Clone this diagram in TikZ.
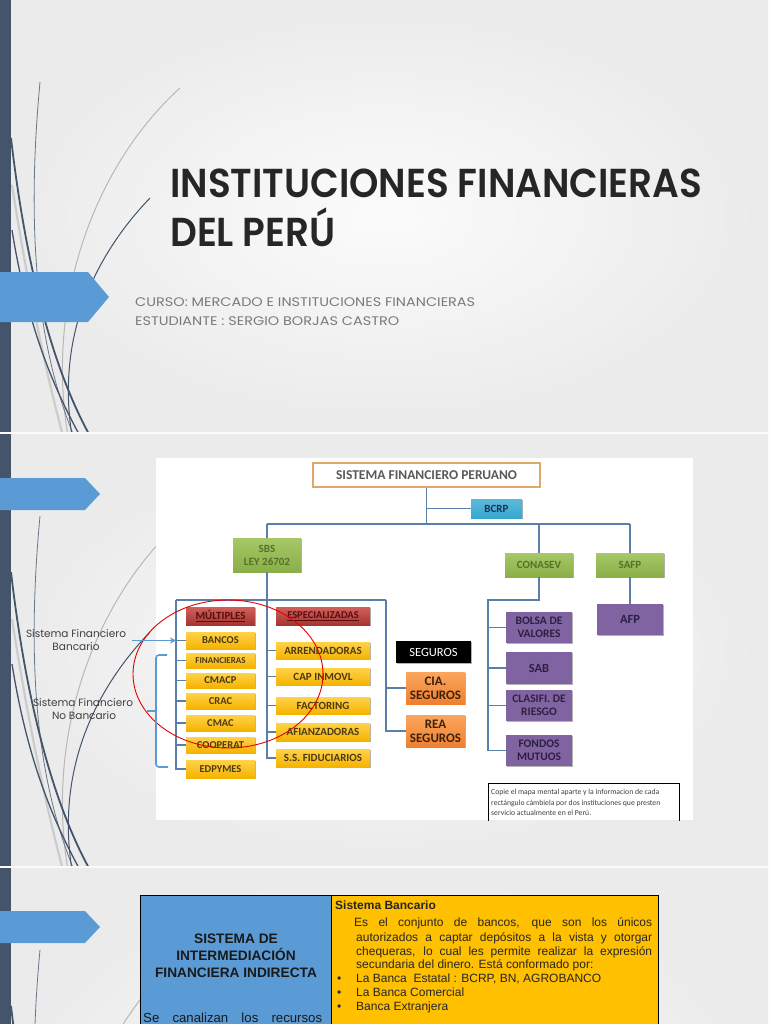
\documentclass[tikz,border=0pt]{standalone}
\usepackage{fontspec}
\usepackage{graphicx}
\usetikzlibrary{shadows,arrows.meta}
\setmainfont{Liberation Sans}
\newfontfamily\gothic{Poppins}
\newfontfamily\gothictitle{Poppins SemiBold}
\newfontfamily\calib{Carlito}
\newfontfamily\arialf{Liberation Sans}
\definecolor{strip}{HTML}{44546A}
\definecolor{accblue}{HTML}{5B9BD5}
\definecolor{connc}{HTML}{5A80AA}
\definecolor{yel1}{HTML}{FFD24A}
\definecolor{yel2}{HTML}{F5B300}
\definecolor{ytext}{HTML}{4A3A16}
\definecolor{gr1}{HTML}{A6C867}
\definecolor{gr2}{HTML}{8AAE48}
\definecolor{gtext}{HTML}{56702A}
\definecolor{pbox}{HTML}{8064A2}
\definecolor{ptext}{HTML}{2E1F42}
\definecolor{or1}{HTML}{FBA55E}
\definecolor{or2}{HTML}{EE8030}
\definecolor{otext}{HTML}{3D2208}
\definecolor{red1}{HTML}{D0605C}
\definecolor{red2}{HTML}{A63532}
\definecolor{rtext}{HTML}{5A0E0E}
\definecolor{bcrpc}{HTML}{35A8D0}
\definecolor{bcrptext}{HTML}{1E2F4F}
\definecolor{ttlborder}{HTML}{E0A868}
\definecolor{ttltext}{HTML}{595959}
\definecolor{titlec}{HTML}{262626}
\definecolor{subc}{HTML}{7A7A7A}
\definecolor{ybig}{HTML}{FFC000}
\newsavebox\mybox
\AtBeginDocument{%
  \sbox\mybox{\gothictitle\fontsize{40}{40}\selectfont INSTITUCIONES FINANCIERAS}%
  \pgfmathsetmacro\tsx{532/\the\wd\mybox}%
  \pgfmathsetmacro\tsy{28.6/\the\ht\mybox}%
  \sbox\mybox{\gothic\fontsize{12}{12}\selectfont CURSO: MERCADO E INSTITUCIONES FINANCIERAS}%
  \pgfmathsetmacro\ssx{340/\the\wd\mybox}%
  \pgfmathsetmacro\ssy{8.8/\the\ht\mybox}%
  \sbox\mybox{\gothic\fontsize{10}{10}\selectfont Sistema Financiero}%
  \pgfmathsetmacro\lfs{10*100/\the\wd\mybox}%
}
\newcommand\mywisps{%
  \draw[line width=2.2pt, black!20] (12,185) .. controls (30,300) and (48,380) .. (63,436);
  \draw[line width=1.0pt, black!28] (180,88) .. controls (95,165) and (45,300) .. (68,436);
  \draw[line width=0.8pt, strip!80] (40,82) .. controls (29,200) and (30,330) .. (74,436);
  \draw[line width=1.8pt, strip] (11,138) .. controls (24,250) and (48,360) .. (90,436);
  \draw[line width=1.3pt, strip] (12,230) .. controls (28,330) and (55,390) .. (80,436);
  \draw[line width=1.0pt, strip] (150,198) .. controls (100,250) and (55,330) .. (72,436);
}
\begin{document}
\begin{tikzpicture}[x=1pt,y=-1pt,
  cbox/.style={inner sep=0pt, outer sep=0pt, align=center,
     drop shadow={shadow xshift=0.8pt, shadow yshift=-0.8pt, opacity=0.3, fill=black}},
  ybx/.style={cbox, top color=yel1, bottom color=yel2, text=ytext,
     font=\calib\bfseries\fontsize{10.5}{11}\selectfont, minimum height=17pt},
  multbx/.style={ybx, minimum width=69pt},
  espbx/.style={ybx, minimum width=94pt, font=\calib\bfseries\fontsize{11}{12}\selectfont},
  redbx/.style={cbox, top color=red1, bottom color=red2, text=rtext,
     font=\calib\bfseries\fontsize{10.5}{11}\selectfont, minimum height=18pt},
  grbx/.style={cbox, top color=gr1, bottom color=gr2, text=gtext,
     font=\calib\bfseries\fontsize{11}{13}\selectfont},
  purbx/.style={cbox, fill=pbox, text=ptext, font=\calib\bfseries\fontsize{11.5}{13}\selectfont,
     minimum width=66pt, minimum height=31pt},
  orbx/.style={cbox, top color=or1, bottom color=or2, text=otext,
     font=\calib\bfseries\fontsize{13}{14}\selectfont, minimum width=59pt, minimum height=32pt},
  conn/.style={draw=connc, line width=1.4pt},
  lbl/.style={inner sep=0pt, text=black!75},
  txt/.style={inner sep=0pt, anchor=base west},
]
\useasboundingbox (0,0) rectangle (768,1024);
\clip (0,0) rectangle (768,1024);
\fill[white!96!gray] (0,0) rectangle (768,1024);
% slide backgrounds
\foreach \t/\b in {0/432,434/866,868/1300}{
  \shade[inner color=gray!3, outer color=gray!16] (0,\t) rectangle (768,\b);
}
% decorative wisps
\begin{scope}\clip (0,0) rectangle (768,432); \mywisps \end{scope}
\begin{scope}\clip (0,434) rectangle (768,866);
  \begin{scope}[yshift=-434pt] \mywisps \end{scope}\end{scope}
\begin{scope}\clip (0,868) rectangle (768,1024);
  \begin{scope}[yshift=-868pt] \mywisps \end{scope}\end{scope}
% dark strip
\fill[strip] (0,0) rectangle (11,432);
\fill[strip] (0,434) rectangle (11,866);
\fill[strip] (0,868) rectangle (11,1024);
% blue pentagons
\fill[accblue] (0,272) -- (88,272) -- (109,297) -- (88,322) -- (0,322) -- cycle;
\fill[accblue] (0,478) -- (85,478) -- (100,494) -- (85,510) -- (0,510) -- cycle;
\fill[accblue] (0,911) -- (85,911) -- (100,927) -- (85,943) -- (0,943) -- cycle;

% ---------- slide 1 text ----------
\node[txt, text=titlec] (title1) at (170,198)
  {\scalebox{\tsx}[\tsy]{\gothictitle\fontsize{40}{40}\selectfont INSTITUCIONES FINANCIERAS}};
\node[txt, text=titlec] (title2) at (170,246)
  {\scalebox{\tsx}[\tsy]{\gothictitle\fontsize{40}{40}\selectfont DEL PERÚ}};
\node[txt, text=subc] (sub1) at (135,306.5)
  {\scalebox{\ssx}[\ssy]{\gothic\fontsize{12}{12}\selectfont CURSO: MERCADO E INSTITUCIONES FINANCIERAS}};
\node[txt, text=subc] (sub2) at (135,325.5)
  {\scalebox{\ssx}[\ssy]{\gothic\fontsize{12}{12}\selectfont ESTUDIANTE : SERGIO BORJAS CASTRO}};

% ---------- slide 2 chart ----------
\fill[white] (156,458) rectangle (693,820);
\node[draw=ttlborder, line width=1.5pt, fill=white, minimum width=227pt, minimum height=24pt,
  inner sep=0pt, text=ttltext, font=\calib\bfseries\fontsize{13.5}{14}\selectfont] (sfp) at (426.5,475)
  {SISTEMA FINANCIERO PERUANO};
\node[cbox, top color=bcrpc!80!white, bottom color=bcrpc, text=bcrptext, minimum width=51pt,
  minimum height=19pt, font=\calib\bfseries\fontsize{11}{12}\selectfont] (bcrp) at (496.5,508.5) {BCRP};
\node[grbx, minimum width=68pt, minimum height=34pt] (sbs) at (267,555) {SBS\\LEY 26702};
\node[grbx, minimum width=68pt, minimum height=24pt] (conasev) at (539,565) {CONASEV};
\node[grbx, minimum width=68pt, minimum height=24pt] (safp) at (630,565) {SAFP};
\node[purbx, font=\calib\bfseries\fontsize{12.5}{13}\selectfont] (afp) at (630,619.5) {AFP};

\node[redbx, minimum width=69pt, font=\calib\bfseries\fontsize{11}{12}\selectfont] (mult) at (220.5,616) {\underline{MÚLTIPLES}};
\node[multbx] (bancos) at (220.5,640.5) {BANCOS};
\node[multbx, minimum height=15pt, font=\calib\bfseries\fontsize{9}{10}\selectfont] (finan) at (220.5,660.5) {FINANCIERAS};
\node[multbx, minimum height=15pt] (cmacp) at (220.5,680.5) {CMACP};
\node[multbx, minimum height=16pt] (crac) at (220.5,701) {CRAC};
\node[multbx, minimum height=16pt] (cmac) at (220.5,723) {CMAC};
\node[multbx, minimum height=16pt] (coop) at (220.5,745) {COOPERAT};
\node[multbx, minimum height=18pt] (edp) at (220.5,769) {EDPYMES};

\node[redbx, minimum width=94pt] (espec) at (323,616) {\underline{ESPECIALIZADAS}};
\node[espbx] (arr) at (323,650.5) {ARRENDADORAS};
\node[espbx] (cap) at (323,676.5) {CAP INMOVL};
\node[espbx] (fact) at (323,705.5) {FACTORING};
\node[espbx, minimum height=18pt] (afi) at (323,732) {AFIANZADORAS};
\node[espbx, minimum height=18pt] (ssf) at (323,758) {S.S. FIDUCIARIOS};

\node[cbox, fill=black, text=white, minimum width=75pt, minimum height=22pt,
  font=\calib\fontsize{12.5}{13}\selectfont] (seg) at (433.5,652) {SEGUROS};
\node[orbx] (cia) at (435.5,688) {CIA.\\SEGUROS};
\node[orbx] (rea) at (435.5,731) {REA\\SEGUROS};

\node[purbx] (bolsa) at (539,627.5) {BOLSA DE\\VALORES};
\node[purbx, minimum height=32pt, font=\calib\bfseries\fontsize{12.5}{13}\selectfont] (sab) at (539,668) {SAB};
\node[purbx] (clas) at (539,705.5) {CLASIFI. DE\\RIESGO};
\node[purbx] (fond) at (539,750.5) {FONDOS\\MUTUOS};

% connectors
\coordinate (bus) at (0,524);
\coordinate (rl) at (176,600);
\coordinate (rr) at (386,600);
\coordinate (cl) at (488,600);
\draw[conn] (sfp.south) -- (sfp.south |- bus);
\draw[conn] (sfp.south |- bcrp) -- (bcrp.west);
\draw[conn] (sbs.north |- bus) -- (safp.north |- bus);
\draw[conn] (sbs.north |- bus) -- (sbs.north);
\draw[conn] (conasev.north |- bus) -- (conasev.north);
\draw[conn] (safp.north |- bus) -- (safp.north);
\draw[conn] (safp.south) -- (afp.north);
\draw[conn] (rl) -- (rr);
\draw[conn] (rl) -- (rl |- edp) -- (edp.west);
\foreach \n in {bancos,finan,cmacp,crac,cmac,coop}{\draw[conn] (rl |- \n) -- (\n.west);}
\draw[conn] (sbs.south) -- (sbs.south |- ssf) -- (ssf.west);
\foreach \n in {arr,cap,fact,afi}{\draw[conn] (sbs.south |- \n) -- (\n.west);}
\draw[conn] (rr) -- (rr |- rea) -- (rea.west);
\draw[conn] (rr |- cia) -- (cia.west);
\draw[conn] (conasev.south) -- (conasev.south |- cl) -- (cl) -- (cl |- fond) -- (fond.west);
\foreach \n in {bolsa,sab,clas}{\draw[conn] (cl |- \n) -- (\n.west);}

% red ellipse
\draw[red!90!black, line width=0.9pt] (228,674) ellipse [x radius=95pt, y radius=74pt];

% note box
\begin{scope}
  \clip (156,458) rectangle (693,820);
  \draw[black, line width=0.8pt] (488,783) rectangle (679,840);
\end{scope}
\node[txt, text=black!75, font=\calib\fontsize{7.7}{8}\selectfont] (note1) at (491,794.5)
  {Copie el mapa mental aparte y la informacion de cada};
\node[txt, text=black!75, font=\calib\fontsize{7.7}{8}\selectfont] (note2) at (491,805)
  {rectángulo cámbiela por dos instituciones que presten};
\node[txt, text=black!75, font=\calib\fontsize{7.7}{8}\selectfont] (note3) at (491,815.5)
  {servicio actualmente en el Perú.};

% left labels
\node[lbl, font=\gothic\fontsize{\lfs}{\lfs}\selectfont] (lb1a) at (76,634) {Sistema Financiero};
\node[lbl, font=\gothic\fontsize{\lfs}{\lfs}\selectfont] (lb1b) at (76,647) {Bancario};
\node[lbl, font=\gothic\fontsize{\lfs}{\lfs}\selectfont] (lb2a) at (83,703) {Sistema Financiero};
\node[lbl, font=\gothic\fontsize{\lfs}{\lfs}\selectfont] (lb2b) at (84,716) {No Bancario};
\coordinate (arrS) at (132,640.5);
\draw[accblue, line width=1.5pt, -{Stealth[length=6pt,width=6pt]}] (arrS) -- (rl |- bancos);
\draw[accblue, line width=1.6pt, rounded corners=3pt] (167,655) -- (156,655) -- (156,767) -- (168,767);
\coordinate (brtip) at (147,711);
\draw[accblue, line width=1.6pt] (156,711) -- (brtip);

% ---------- slide 3 ----------
\fill[accblue, draw=black, line width=1pt] (140,895) rectangle (331,1034);
\fill[ybig, draw=black, line width=1pt] (331,895) rectangle (658,1034);
\node[inner sep=0pt, anchor=base, font=\arialf\bfseries\fontsize{13.7}{17}\selectfont, text=black!90] (s3a) at (236,943) {SISTEMA DE};
\node[inner sep=0pt, anchor=base, font=\arialf\bfseries\fontsize{13.7}{17}\selectfont, text=black!90] (s3b) at (236,960) {INTERMEDIACIÓN};
\node[inner sep=0pt, anchor=base, font=\arialf\bfseries\fontsize{13.7}{17}\selectfont, text=black!90] (s3c) at (236,977) {FINANCIERA INDIRECTA};
\node[txt, font=\arialf\fontsize{13.2}{17}\selectfont, text=black!90] (s3d) at (143,1022.5)
  {\makebox[179pt][s]{Se canalizan los recursos}};

\begin{scope}[every node/.style={txt, font=\arialf\fontsize{12}{14}\selectfont, text=black!85}]
\node[font=\arialf\bfseries\fontsize{12}{14}\selectfont] (y0) at (335,909) {Sistema Bancario};
\node (y1) at (354,926) {\makebox[298pt][s]{Es el conjunto de bancos, que son los únicos}};
\node (y2) at (356,941) {\makebox[296pt][s]{autorizados a captar depósitos a la vista y otorgar}};
\node (y3) at (356,955) {\makebox[296pt][s]{chequeras, lo cual les permite realizar la expresión}};
\node (y4) at (356,968) {secundaria del dinero. Está conformado por:};
\node (b1) at (337,982) {•};
\node (b2) at (337,996) {•};
\node (b3) at (337,1010) {•};
\node (y5) at (356,982) {La Banca\ \ Estatal : BCRP, BN, AGROBANCO};
\node (y6) at (356,996) {La Banca Comercial};
\node (y7) at (356,1010) {Banca Extranjera};
\end{scope}

% slide separators
\draw[white!97!gray, line width=2pt] (0,433) -- (768,433);
\draw[white!97!gray, line width=2pt] (0,867) -- (768,867);
\end{tikzpicture}
\end{document}
